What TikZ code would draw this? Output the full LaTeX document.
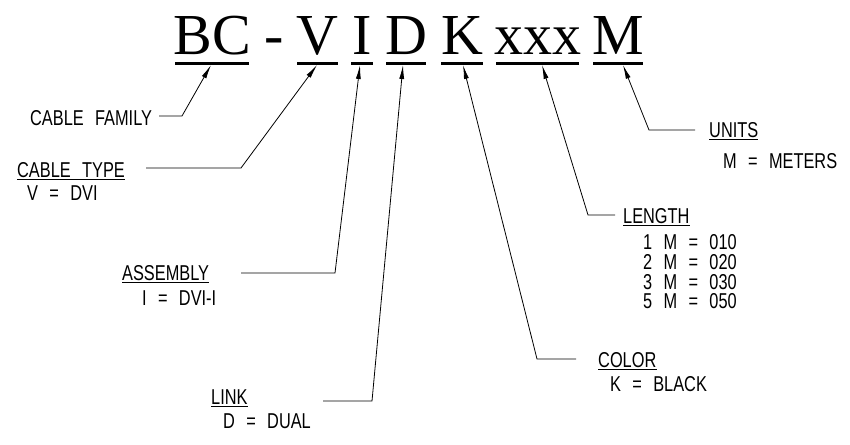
\documentclass[tikz,border=0pt]{standalone}
\usepackage{fontspec}
\setmainfont{Liberation Serif}
\newfontfamily\lblfont[FakeStretch=0.76,WordSpace=2.5]{Liberation Sans}
\usetikzlibrary{arrows.meta,calc}
\begin{document}
\begin{tikzpicture}[x=1pt,y=-1pt,
  big/.style={inner sep=0pt,anchor=base,font=\fontsize{58}{58}\selectfont},
  bar/.style={line width=3pt},
  lbl/.style={inner sep=0pt,anchor=base west,font=\lblfont\fontsize{21.5}{21.5}\selectfont},
  leader/.style={line width=0.8pt,-{Latex[length=14pt,width=5pt]}},
  uline/.style={line width=0.8pt}]
\useasboundingbox (0,0) rectangle (850,444);
\fill[white] (0,0) rectangle (850,444);
% code letters
\node[big] (BC) at (212,55) {BC};
\node[big] (dash) at (274.5,55) {-};
\node[big] (V) at (317.5,55) {V};
\node[big] (I) at (362,55) {I};
\node[big] (D) at (406,55) {D};
\node[big] (K) at (462,55) {K};
\node[big] (X) at (537.5,55) {xxx};
\node[big] (M) at (618,55) {M};
% underlines
\draw[bar] (175,63.5) -- (249,63.5);
\draw[bar] (297,63.5) -- (338,63.5);
\draw[bar] (351,63.5) -- (373,63.5);
\draw[bar] (386,63.5) -- (426,63.5);
\draw[bar] (441,63.5) -- (483,63.5);
\draw[bar] (496,63.5) -- (579,63.5);
\draw[bar] (593,63.5) -- (643,63.5);
% arrow tips
\coordinate (tBC) at (211,65);
\coordinate (tV) at (317,65);
\coordinate (tI) at (360,65);
\coordinate (tD) at (403,65);
\coordinate (tK) at (463,65);
\coordinate (tX) at (542,65);
\coordinate (tM) at (623,65);
% labels
\node[lbl] (fam) at (30,125) {CABLE FAMILY};
\node[lbl] (typ) at (17,177) {CABLE TYPE};
\node[lbl] (typv) at (27,200) {V = DVI};
\node[lbl] (asm) at (122,280) {ASSEMBLY};
\node[lbl] (asmv) at (142,305) {I = DVI-I};
\node[lbl] (lnk) at (211,404) {LINK};
\node[lbl] (lnkv) at (223,428) {D = DUAL};
\node[lbl] (col) at (598,367) {COLOR};
\node[lbl] (colv) at (610,391) {K = BLACK};
\node[lbl] (len) at (623,223) {LENGTH};
\node[lbl,anchor=north west,align=left,
  font=\lblfont\fontsize{21.5}{19.6}\selectfont] (lenv) at (643,234.6)
  {1 M = 010\\2 M = 020\\3 M = 030\\5 M = 050};
\node[lbl] (uni) at (709,137) {UNITS};
\node[lbl] (univ) at (723,168) {M = METERS};
% label underlines
\foreach \n in {typ,asm,lnk,col,len,uni}
  \draw[uline] ($(\n.base west)+(0,2.5)$) -- ($(\n.base east)+(0,2.5)$);
% leaders
\coordinate (fA) at (159,116); \coordinate (fB) at (182,116);
\coordinate (yA) at (146,168); \coordinate (yB) at (241,168);
\coordinate (aA) at (241,273); \coordinate (aB) at (335,273);
\coordinate (lA) at (323,401); \coordinate (lB) at (372,401);
\coordinate (cA) at (576,359); \coordinate (cB) at (537,359);
\coordinate (gA) at (615,215); \coordinate (gB) at (588,215);
\coordinate (uA) at (695,130); \coordinate (uB) at (649,130);
\draw[leader] (fA) -- (fB) -- (tBC);
\draw[leader] (yA) -- (yB) -- (tV);
\draw[leader] (aA) -- (aB) -- (tI);
\draw[leader] (lA) -- (lB) -- (tD);
\draw[leader] (cA) -- (cB) -- (tK);
\draw[leader] (gA) -- (gB) -- (tX);
\draw[leader] (uA) -- (uB) -- (tM);
\end{tikzpicture}
\end{document}
